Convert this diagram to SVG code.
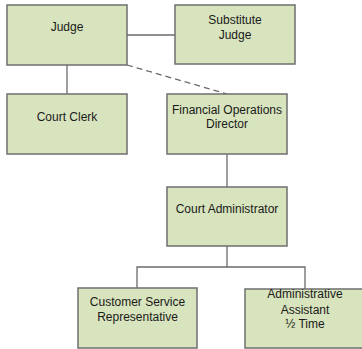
<svg xmlns="http://www.w3.org/2000/svg" width="362" height="349" viewBox="0 0 362 349">
<style>
.box{fill:#d7e4bd;stroke:#6f6f6f;stroke-width:1.5}
.t{font-family:"Liberation Sans",Arial,sans-serif;font-size:12px;fill:#1a1a1a;text-anchor:middle}
.c{stroke:#6b6b6b;stroke-width:1.3;fill:none}
</style>
<rect width="362" height="349" fill="#ffffff"/>
<g id="connectors">
<path class="c" d="M127 35H175"/>
<path class="c" d="M67 65V94"/>
<path class="c" d="M127 65L227 94" stroke-dasharray="6,4"/>
<path class="c" d="M227 154V187"/>
<path class="c" d="M227 246V267M137 288V267H305V289"/>
</g>
<g id="judge"><rect class="box" x="7" y="5" width="120" height="60"/><text class="t" x="67" y="31">Judge</text></g>
<g id="substitute-judge"><rect class="box" x="175" y="5" width="120" height="59"/><text class="t" x="235" y="24">Substitute</text><text class="t" x="235" y="39">Judge</text></g>
<g id="court-clerk"><rect class="box" x="7" y="94" width="120" height="60"/><text class="t" x="67" y="121">Court Clerk</text></g>
<g id="fod"><rect class="box" x="167" y="94" width="120" height="60"/><text class="t" x="227" y="114">Financial Operations</text><text class="t" x="227" y="128">Director</text></g>
<g id="court-administrator"><rect class="box" x="167" y="187" width="120" height="59"/><text class="t" x="227" y="213">Court Administrator</text></g>
<g id="csr"><rect class="box" x="78" y="288" width="119" height="60"/><text class="t" x="137.5" y="306">Customer Service</text><text class="t" x="137.5" y="321">Representative</text></g>
<g id="admin-assistant"><rect class="box" x="245" y="289" width="120" height="59"/><text class="t" x="305" y="298">Administrative</text><text class="t" x="305" y="314">Assistant</text><text class="t" x="305" y="328">½ Time</text></g>
</svg>
